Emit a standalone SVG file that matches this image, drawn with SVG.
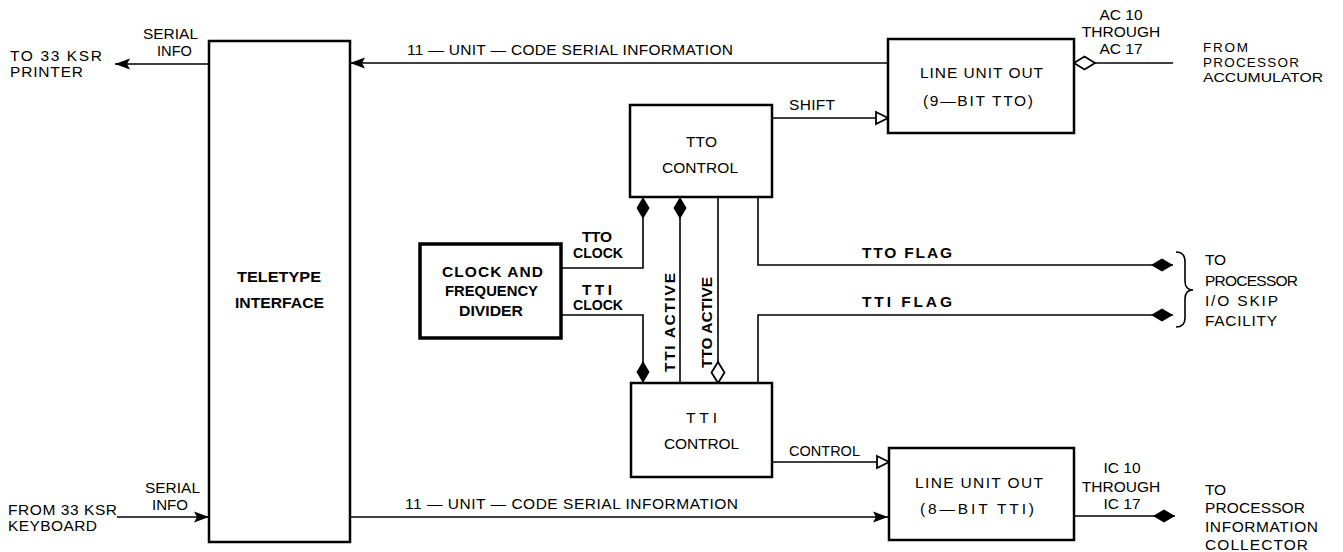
<svg xmlns="http://www.w3.org/2000/svg" width="1343" height="552" viewBox="0 0 1343 552">
<style>
.box{fill:#fff;stroke:#000;stroke-width:2.5}
.thick{fill:#fff;stroke:#000;stroke-width:3.5}
.ln{fill:none;stroke:#000;stroke-width:1.6}
text{font-family:"Liberation Sans",Arial,sans-serif;font-size:15.5px;fill:#000}
.s{font-size:13.5px}
.b{font-weight:bold}
.m{text-anchor:middle}
</style>
<defs>
<marker id="arr" markerUnits="userSpaceOnUse" markerWidth="16" markerHeight="12" refX="15" refY="5.5" orient="auto" overflow="visible">
<path d="M0,0 L15,5.5 L0,11 L3,5.5 z" fill="#000"/>
</marker>
<marker id="tri" markerUnits="userSpaceOnUse" markerWidth="14" markerHeight="14" refX="12" refY="6" orient="auto" overflow="visible">
<path d="M0,0 L12,6 L0,12 z" fill="#fff" stroke="#000" stroke-width="1.8"/>
</marker>
<marker id="dia" markerUnits="userSpaceOnUse" markerWidth="24" markerHeight="14" refX="22" refY="6.5" orient="auto" overflow="visible">
<path d="M0,6.5 L11,0 L22,6.5 L11,13 z" fill="#000"/>
</marker>
<marker id="hdia" markerUnits="userSpaceOnUse" markerWidth="24" markerHeight="14" refX="21" refY="6.5" orient="auto" overflow="visible">
<path d="M0,6.5 L10.5,0 L21,6.5 L10.5,13 z" fill="#fff" stroke="#000" stroke-width="1.8"/>
</marker>
</defs>

<g id="connectors">
<path class="ln" d="M209,64 L115,64" marker-end="url(#arr)"/>
<path class="ln" d="M888,63 L350,63" marker-end="url(#arr)"/>
<path class="ln" d="M117,517 L209,517" marker-end="url(#arr)"/>
<path class="ln" d="M350,517 L888,517" marker-end="url(#arr)"/>
<path class="ln" d="M772,118 L888,118" marker-end="url(#tri)"/>
<path class="ln" d="M772,462 L889,462" marker-end="url(#tri)"/>
<path class="ln" d="M1173,63 L1074,63" marker-end="url(#hdia)"/>
<path class="ln" d="M1074,516 L1175,516" marker-end="url(#dia)"/>
<path class="ln" d="M561,268 L643,268 L643,197" marker-end="url(#dia)"/>
<path class="ln" d="M561,315 L643,315 L643,383" marker-end="url(#dia)"/>
<path class="ln" d="M680,383 L680,197" marker-end="url(#dia)"/>
<path class="ln" d="M718,197 L718,383" marker-end="url(#hdia)"/>
<path class="ln" d="M758,197 L758,265 L1173,265" marker-end="url(#dia)"/>
<path class="ln" d="M758,383 L758,315 L1173,315" marker-end="url(#dia)"/>
<path class="ln" d="M1176,252 Q1185,252 1185,262 L1185,281 Q1185,290 1193,290 Q1185,290 1185,299 L1185,318 Q1185,327 1176,327"/>
<text x="143" y="39" textLength="55" lengthAdjust="spacingAndGlyphs">SERIAL</text>
<text x="157" y="56" textLength="35" lengthAdjust="spacingAndGlyphs">INFO</text>
<text x="407" y="55" textLength="326" lengthAdjust="spacing">11 — UNIT — CODE SERIAL INFORMATION</text>
<text x="789" y="110" textLength="46" lengthAdjust="spacing">SHIFT</text>
<text x="1121" y="20" class="m">AC 10</text>
<text x="1121" y="37" class="m">THROUGH</text>
<text x="1121" y="54" class="m">AC 17</text>
<text x="582" y="242" class="b" textLength="30" lengthAdjust="spacing">TTO</text>
<text x="573" y="258" class="b" textLength="50" lengthAdjust="spacingAndGlyphs">CLOCK</text>
<text x="582" y="295" class="b" textLength="30" lengthAdjust="spacing">TTI</text>
<text x="573" y="310" class="b" textLength="50" lengthAdjust="spacingAndGlyphs">CLOCK</text>
<text transform="translate(675,372) rotate(-90)" class="b" textLength="99" lengthAdjust="spacing">TTI ACTIVE</text>
<text transform="translate(712,368) rotate(-90)" class="b" textLength="91" lengthAdjust="spacingAndGlyphs">TTO ACTIVE</text>
<text x="862" y="258" class="b" textLength="90" lengthAdjust="spacing">TTO FLAG</text>
<text x="862" y="307" class="b" textLength="90" lengthAdjust="spacing">TTI FLAG</text>
<text x="789" y="456" textLength="71" lengthAdjust="spacingAndGlyphs">CONTROL</text>
<text x="405" y="509" textLength="333" lengthAdjust="spacing">11 — UNIT — CODE SERIAL INFORMATION</text>
<text x="1122" y="473" class="m">IC 10</text>
<text x="1121" y="492" class="m">THROUGH</text>
<text x="1122" y="509" class="m">IC 17</text>
<text x="145" y="493" textLength="55" lengthAdjust="spacingAndGlyphs">SERIAL</text>
<text x="152" y="510" textLength="36" lengthAdjust="spacingAndGlyphs">INFO</text>
</g>

<g id="ext-printer">
<text x="10" y="61" textLength="92" lengthAdjust="spacing">TO 33 KSR</text>
<text x="10" y="77" textLength="73" lengthAdjust="spacing">PRINTER</text>
</g>
<g id="ext-keyboard">
<text x="8" y="515" textLength="109" lengthAdjust="spacing">FROM 33 KSR</text>
<text x="8" y="531" textLength="89" lengthAdjust="spacing">KEYBOARD</text>
</g>
<g id="ext-accumulator">
<text x="1203" y="52" class="s" textLength="45" lengthAdjust="spacing">FROM</text>
<text x="1203" y="67" class="s" textLength="96" lengthAdjust="spacing">PROCESSOR</text>
<text x="1203" y="82" class="s" textLength="120" lengthAdjust="spacingAndGlyphs">ACCUMULATOR</text>
</g>
<g id="ext-skip">
<text x="1205" y="265" textLength="21" lengthAdjust="spacing">TO</text>
<text x="1205" y="286" textLength="93" lengthAdjust="spacing">PROCESSOR</text>
<text x="1205" y="306" textLength="73" lengthAdjust="spacing">I/O SKIP</text>
<text x="1205" y="326" textLength="72" lengthAdjust="spacing">FACILITY</text>
</g>
<g id="ext-collector">
<text x="1205" y="495" textLength="21" lengthAdjust="spacing">TO</text>
<text x="1205" y="513" textLength="100" lengthAdjust="spacing">PROCESSOR</text>
<text x="1205" y="532" textLength="113" lengthAdjust="spacing">INFORMATION</text>
<text x="1205" y="550" textLength="103" lengthAdjust="spacing">COLLECTOR</text>
</g>

<g id="teletype">
<rect class="box" x="209" y="41" width="141" height="501"/>
<text x="237" y="282" class="b" textLength="84" lengthAdjust="spacingAndGlyphs">TELETYPE</text>
<text x="235" y="308" class="b" textLength="89" lengthAdjust="spacingAndGlyphs">INTERFACE</text>
</g>
<g id="tto-control">
<rect class="box" x="630" y="105" width="142" height="92"/>
<text x="686" y="147" textLength="31" lengthAdjust="spacing">TTO</text>
<text x="662" y="173" textLength="76" lengthAdjust="spacing">CONTROL</text>
</g>
<g id="tti-control">
<rect class="box" x="631" y="383" width="141" height="94"/>
<text x="686" y="423" textLength="31" lengthAdjust="spacing">TTI</text>
<text x="664" y="449" textLength="75" lengthAdjust="spacing">CONTROL</text>
</g>
<g id="luo-tto">
<rect class="box" x="888" y="39" width="186" height="94"/>
<text x="920" y="78" textLength="123" lengthAdjust="spacing">LINE UNIT OUT</text>
<text x="923" y="106" textLength="110" lengthAdjust="spacing">(9—BIT TTO)</text>
</g>
<g id="luo-tti">
<rect class="box" x="889" y="448" width="185" height="92"/>
<text x="915" y="488" textLength="128" lengthAdjust="spacing">LINE UNIT OUT</text>
<text x="920" y="514" textLength="114" lengthAdjust="spacing">(8—BIT TTI)</text>
</g>
<g id="clock-divider">
<rect class="thick" x="420" y="244" width="141" height="94"/>
<text x="442" y="277" class="b" textLength="101" lengthAdjust="spacing">CLOCK AND</text>
<text x="445" y="296" class="b" textLength="93" lengthAdjust="spacingAndGlyphs">FREQUENCY</text>
<text x="459" y="316" class="b" textLength="64" lengthAdjust="spacingAndGlyphs">DIVIDER</text>
</g>
</svg>
